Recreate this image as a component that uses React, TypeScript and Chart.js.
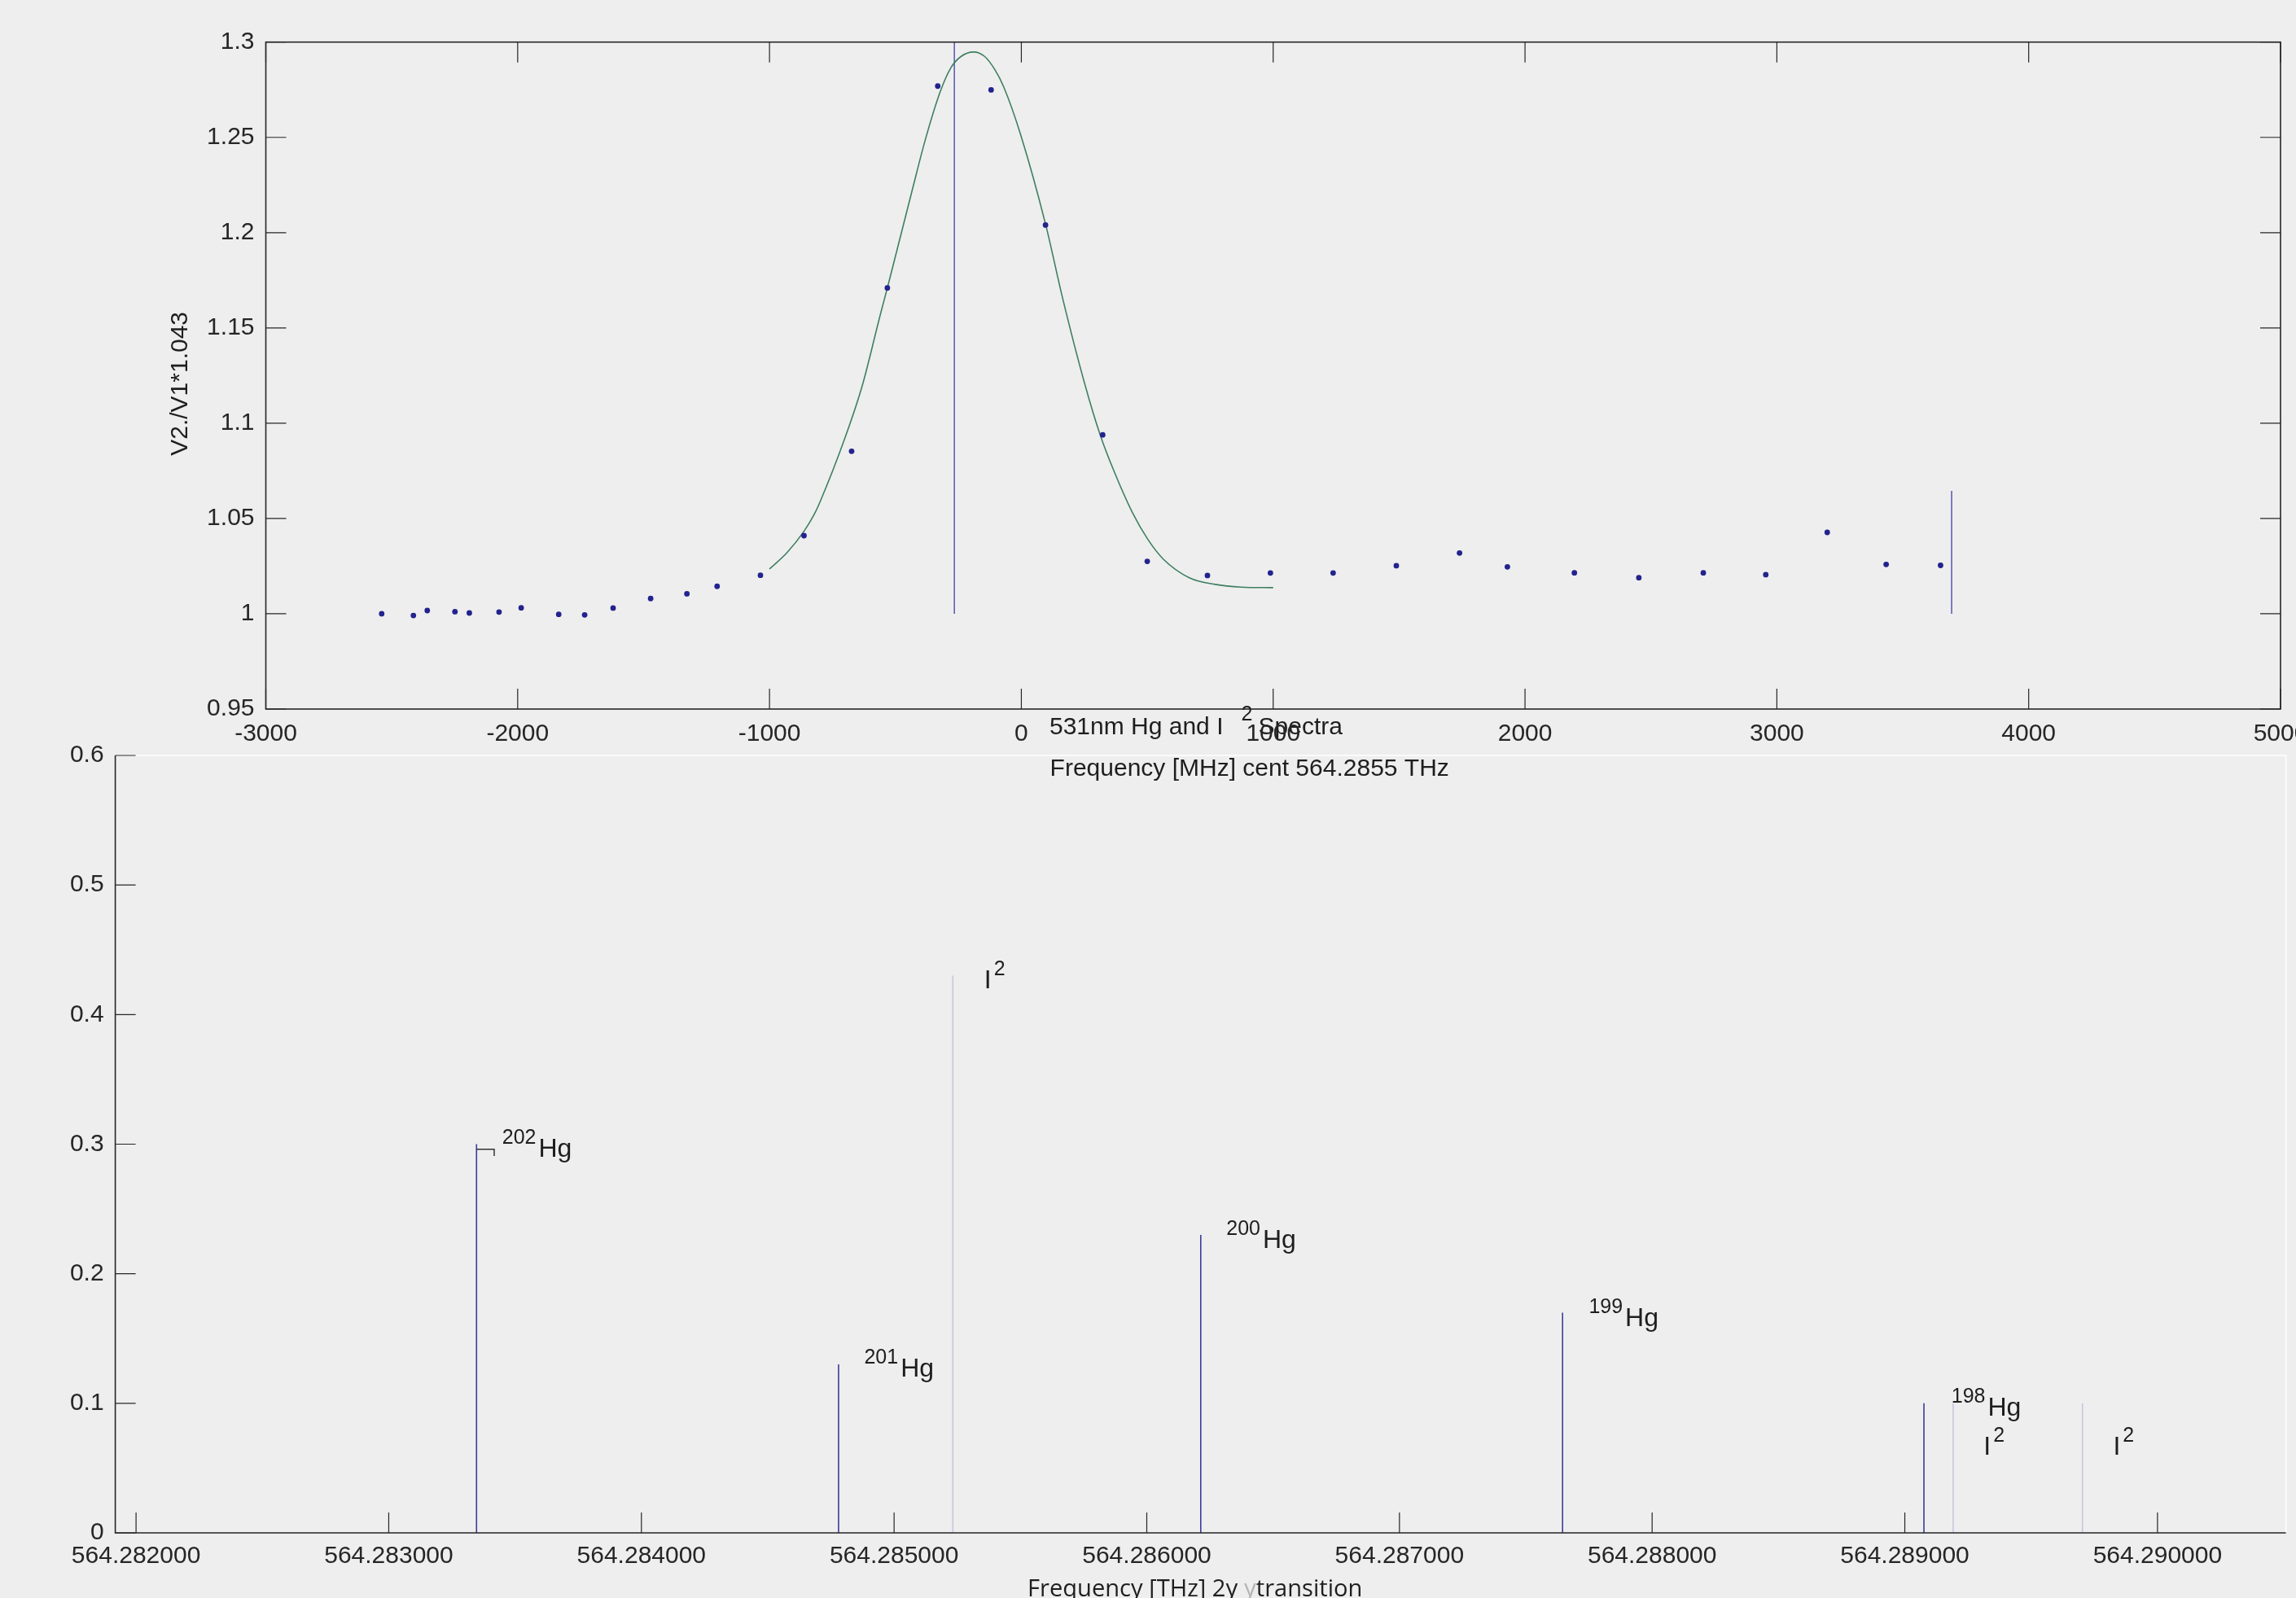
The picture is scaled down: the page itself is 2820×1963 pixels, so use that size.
import React, { useEffect, useRef } from 'react';
import { Chart, registerables } from 'chart.js';

Chart.register(...registerables);

const FONT = '"Liberation Sans", Arial, Helvetica, sans-serif';
const INK = '#1e1e1e';
const AXIS = '#262626';
const BG = '#eeeeee';

// ---------- top panel: measured ratio vs detuning ----------
const TOP_X_MIN = -3000;
const TOP_X_MAX = 5000;
const TOP_Y_MIN = 0.95;
const TOP_Y_MAX = 1.3;
const TOP_X_TICKS = [-3000, -2000, -1000, 0, 1000, 2000, 3000, 4000, 5000];
const TOP_Y_TICKS = [0.95, 1, 1.05, 1.1, 1.15, 1.2, 1.25, 1.3];

const MEAS_MHZ = [
  -2540, -2414, -2359, -2249, -2192, -2074, -1986, -1837, -1734, -1621,
  -1472, -1328, -1208, -1036, -863, -674, -532, -332, -120, 96,
  323, 500, 739, 989, 1238, 1489, 1740, 1930, 2196, 2452,
  2708, 2956, 3200, 3434, 3650,
];
const MEAS_RATIO = [
  1.0, 0.9991, 1.0017, 1.0011, 1.0004, 1.0009, 1.0031, 0.9997, 0.9994, 1.003,
  1.008, 1.0105, 1.0144, 1.0202, 1.041, 1.0853, 1.171, 1.2769, 1.2749, 1.204,
  1.0939, 1.0275, 1.0201, 1.0214, 1.0214, 1.0252, 1.0319, 1.0246, 1.0215, 1.0189,
  1.0215, 1.0205, 1.0427, 1.0259, 1.0254,
];

const FIT_MHZ = [
  -1000, -931, -862, -823, -800, -697, -631, -560, -532, -431,
  -384, -322, -280, -239, -190, -146, -105, -70, -2, 97,
  163, 251, 313, 369, 441, 503, 565, 667, 770, 873,
  1000,
];
const FIT_RATIO = [
  1.0235, 1.032, 1.0435, 1.052, 1.0585, 1.0935, 1.12, 1.157, 1.171, 1.2235,
  1.2475, 1.274, 1.2865, 1.2925, 1.2948, 1.2925, 1.2855, 1.2765, 1.2511, 1.204,
  1.1661, 1.121, 1.0939, 1.0745, 1.0531, 1.0389, 1.0285, 1.0189, 1.0154, 1.014,
  1.0137,
];

const MARK_MHZ = [-266, 3694];
const MARK_TOP = [1.3, 1.0645];
const MARK_BASE = 1.0;

const TOP_Y_TITLE = 'V2./V1*1.043';
const TOP_X_TITLE = 'Frequency [MHz] cent 564.2855 THz';

// ---------- bottom panel: line positions ----------
const BOT_X_MIN = 564.2819178;
const BOT_X_MAX = 564.2905082;
const BOT_Y_MIN = 0;
const BOT_Y_MAX = 0.6;
const BOT_X_TICKS = [564.282, 564.283, 564.284, 564.285, 564.286, 564.287, 564.288, 564.289, 564.29];
const BOT_Y_TICKS = [0, 0.1, 0.2, 0.3, 0.4, 0.5, 0.6];

const HG_ISOTOPE = ['202', '201', '200', '199', '198'];
const HG_THZ = [564.2833474, 564.2847802, 564.2862136, 564.2876455, 564.2890757];
const HG_AMP = [0.3, 0.13, 0.23, 0.17, 0.1];
const HG_LABEL_THZ = [564.2834488, 564.2848817, 564.2863151, 564.2877493, 564.2891843];
const HG_LABEL_AMP = [0.2994, 0.1299, 0.2292, 0.1689, 0.0995];

const I2_THZ = [564.2852326, 564.2891913, 564.2897031];
const I2_AMP = [0.43, 0.1, 0.1];
const I2_LABEL_THZ = [564.2853567, 564.2893116, 564.2898247];
const I2_LABEL_AMP = [0.4294, 0.0694, 0.0694];

const BRACKET_THZ = [564.2833474, 564.2834174, 564.2834174];
const BRACKET_AMP = [0.2961, 0.2961, 0.2909];

const TITLE_PARTS = ['531nm Hg and I', '2', 'Spectra'];
const BOT_X_TITLE_PARTS = ['Frequency [THz] 2\u03b3 ', '\u03b3', 'transition'];

const pts = (xs: number[], ys: number[]) => xs.map((x, i) => ({ x, y: ys[i] }));

const bgPlugin = {
  id: 'bgFill',
  beforeDraw(chart: any) {
    const { ctx, width, height } = chart;
    ctx.save();
    ctx.fillStyle = BG;
    ctx.fillRect(0, 0, width, height);
    ctx.restore();
  },
};

const topFrame = {
  id: 'topFrame',
  afterDatasetsDraw(chart: any) {
    const { ctx, chartArea: a } = chart;
    const xs = chart.scales.x;
    const ys = chart.scales.y;
    ctx.save();
    ctx.strokeStyle = AXIS;
    ctx.lineWidth = 1.6;
    ctx.strokeRect(a.left, a.top, a.right - a.left, a.bottom - a.top);
    ctx.lineWidth = 1.2;
    ctx.beginPath();
    for (const v of TOP_X_TICKS) {
      const px = xs.getPixelForValue(v);
      ctx.moveTo(px, a.bottom);
      ctx.lineTo(px, a.bottom - 25);
      ctx.moveTo(px, a.top);
      ctx.lineTo(px, a.top + 25);
    }
    for (const v of TOP_Y_TICKS) {
      const py = ys.getPixelForValue(v);
      ctx.moveTo(a.left, py);
      ctx.lineTo(a.left + 25, py);
      ctx.moveTo(a.right, py);
      ctx.lineTo(a.right - 25, py);
    }
    ctx.stroke();

    ctx.fillStyle = INK;
    ctx.font = `30px ${FONT}`;
    ctx.save();
    ctx.translate(230, (a.top + a.bottom) / 2 + 10);
    ctx.rotate(-Math.PI / 2);
    ctx.textAlign = 'center';
    ctx.textBaseline = 'alphabetic';
    ctx.fillText(TOP_Y_TITLE, 0, 0);
    ctx.restore();

    ctx.textAlign = 'left';
    ctx.textBaseline = 'alphabetic';
    ctx.fillText(TOP_X_TITLE, 1289.6, 953);
    ctx.restore();
  },
};

function drawLabel(ctx: any, px: number, py: number, segs: [string, boolean][]) {
  let cx = px;
  for (const [t, sup] of segs) {
    ctx.font = sup ? `25px ${FONT}` : `32px ${FONT}`;
    ctx.fillText(t, cx, sup ? py - 1.5 : py + 14.5);
    cx += ctx.measureText(t).width + 3;
  }
}

const botFrame = {
  id: 'botFrame',
  afterDatasetsDraw(chart: any) {
    const { ctx, chartArea: a } = chart;
    const xs = chart.scales.x;
    const ys = chart.scales.y;
    ctx.save();
    ctx.lineWidth = 1.5;
    ctx.strokeStyle = '#ffffff';
    ctx.beginPath();
    ctx.moveTo(a.left, a.top);
    ctx.lineTo(a.right, a.top);
    ctx.lineTo(a.right, a.bottom);
    ctx.stroke();
    ctx.strokeStyle = AXIS;
    ctx.lineWidth = 1.6;
    ctx.beginPath();
    ctx.moveTo(a.left, a.top);
    ctx.lineTo(a.left, a.bottom);
    ctx.lineTo(a.right, a.bottom);
    ctx.stroke();
    ctx.lineWidth = 1.2;
    ctx.beginPath();
    for (const v of BOT_X_TICKS) {
      const px = xs.getPixelForValue(v);
      ctx.moveTo(px, a.bottom);
      ctx.lineTo(px, a.bottom - 25);
    }
    for (const v of BOT_Y_TICKS) {
      const py = ys.getPixelForValue(v);
      ctx.moveTo(a.left, py);
      ctx.lineTo(a.left + 25, py);
    }
    ctx.stroke();

    ctx.fillStyle = INK;
    ctx.textAlign = 'left';
    ctx.textBaseline = 'alphabetic';
    HG_ISOTOPE.forEach((iso, i) => {
      drawLabel(ctx, xs.getPixelForValue(HG_LABEL_THZ[i]), ys.getPixelForValue(HG_LABEL_AMP[i]), [
        [iso, true],
        ['Hg', false],
      ]);
    });
    I2_LABEL_THZ.forEach((v, i) => {
      drawLabel(ctx, xs.getPixelForValue(v), ys.getPixelForValue(I2_LABEL_AMP[i]), [
        ['I', false],
        ['2', true],
      ]);
    });

    // panel title
    ctx.font = `30px ${FONT}`;
    ctx.fillText(TITLE_PARTS[0], 1289, 902);
    ctx.font = `25px ${FONT}`;
    ctx.fillText(TITLE_PARTS[1], 1524.5, 885);
    ctx.font = `30px ${FONT}`;
    ctx.fillText(TITLE_PARTS[2], 1545.5, 902);

    // bottom axis title (different typeface)
    const fam = '"Open Sans", "Noto Sans", sans-serif';
    const full = BOT_X_TITLE_PARTS.join('');
    ctx.font = `30px ${fam}`;
    const w30 = ctx.measureText(full).width;
    const fs = (30 * 411.5) / w30;
    ctx.font = `${fs}px ${fam}`;
    const base = 1940 + 0.714 * fs;
    let cx = 1262;
    BOT_X_TITLE_PARTS.forEach((t, i) => {
      ctx.fillStyle = i === 1 ? '#b4b4b4' : INK;
      ctx.fillText(t, cx, base);
      cx += ctx.measureText(t).width;
    });
    ctx.restore();
  },
};

const tickFont = { family: FONT, size: 30 };

export default function App() {
  const topRef = useRef<HTMLCanvasElement>(null);
  const botRef = useRef<HTMLCanvasElement>(null);

  useEffect(() => {
    const hgSets = HG_THZ.map((f, i) => ({
      data: [{ x: f, y: 0 }, { x: f, y: HG_AMP[i] }],
      showLine: true,
      borderColor: '#3a3a9e',
      borderWidth: 1.6,
      pointRadius: 0,
    }));
    const i2Sets = I2_THZ.map((f, i) => ({
      data: [{ x: f, y: 0 }, { x: f, y: I2_AMP[i] }],
      showLine: true,
      borderColor: '#c8c8de',
      borderWidth: 1.6,
      pointRadius: 0,
    }));

    const bot = new Chart(botRef.current as HTMLCanvasElement, {
      type: 'scatter',
      data: {
        datasets: [
          {
            data: pts(BRACKET_THZ, BRACKET_AMP),
            showLine: true,
            borderColor: '#333333',
            borderWidth: 1.5,
            pointRadius: 0,
          },
          ...hgSets,
          ...i2Sets,
        ] as any,
      },
      options: {
        responsive: false,
        animation: false,
        devicePixelRatio: 1,
        events: [],
        layout: { autoPadding: false, padding: { left: 0, top: 928, right: 12.4, bottom: 20 } },
        plugins: { legend: { display: false }, tooltip: { enabled: false }, title: { display: false } },
        scales: {
          x: {
            type: 'linear',
            min: BOT_X_MIN,
            max: BOT_X_MAX,
            grid: { display: false, drawTicks: false },
            border: { display: false },
            afterBuildTicks: (s: any) => {
              s.ticks = BOT_X_TICKS.map((v) => ({ value: v }));
            },
            afterFit: (s: any) => {
              s.height = 60;
              s.paddingLeft = 0;
              s.paddingRight = 0;
            },
            ticks: {
              autoSkip: false,
              maxRotation: 0,
              padding: 11,
              color: AXIS,
              font: tickFont,
              callback: (v: any) => Number(v).toFixed(6),
            },
          },
          y: {
            type: 'linear',
            min: BOT_Y_MIN,
            max: BOT_Y_MAX,
            grid: { display: false, drawTicks: false },
            border: { display: false },
            afterBuildTicks: (s: any) => {
              s.ticks = BOT_Y_TICKS.map((v) => ({ value: v }));
            },
            afterFit: (s: any) => {
              s.width = 141.6;
              s.paddingTop = 0;
              s.paddingBottom = 0;
            },
            ticks: {
              padding: 14,
              color: AXIS,
              font: tickFont,
              callback: (v: any) => String(+Number(v).toFixed(4)),
            },
          },
        },
      } as any,
      plugins: [bgPlugin, botFrame],
    });

    const top = new Chart(topRef.current as HTMLCanvasElement, {
      type: 'scatter',
      data: {
        datasets: [
          {
            data: pts(MEAS_MHZ, MEAS_RATIO),
            pointRadius: 3.4,
            pointBorderWidth: 0,
            pointBackgroundColor: '#23238e',
            showLine: false,
          },
          {
            data: pts(FIT_MHZ, FIT_RATIO),
            showLine: true,
            borderColor: '#3d7f60',
            borderWidth: 1.6,
            pointRadius: 0,
            cubicInterpolationMode: 'monotone',
          },
          ...MARK_MHZ.map((m, i) => ({
            data: [{ x: m, y: MARK_BASE }, { x: m, y: MARK_TOP[i] }],
            showLine: true,
            borderColor: '#5555b0',
            borderWidth: 1.5,
            pointRadius: 0,
          })),
        ] as any,
      },
      options: {
        responsive: false,
        animation: false,
        devicePixelRatio: 1,
        events: [],
        layout: { autoPadding: false, padding: { left: 0, top: 51.7, right: 19, bottom: 1012 } },
        plugins: { legend: { display: false }, tooltip: { enabled: false }, title: { display: false } },
        scales: {
          x: {
            type: 'linear',
            min: TOP_X_MIN,
            max: TOP_X_MAX,
            grid: { display: false, drawTicks: false },
            border: { display: false },
            afterBuildTicks: (s: any) => {
              s.ticks = TOP_X_TICKS.map((v) => ({ value: v }));
            },
            afterFit: (s: any) => {
              s.height = 80;
              s.paddingLeft = 0;
              s.paddingRight = 0;
            },
            ticks: {
              autoSkip: false,
              maxRotation: 0,
              padding: 13,
              color: AXIS,
              font: tickFont,
              callback: (v: any) => String(Number(v)),
            },
          },
          y: {
            type: 'linear',
            min: TOP_Y_MIN,
            max: TOP_Y_MAX,
            grid: { display: false, drawTicks: false },
            border: { display: false },
            afterBuildTicks: (s: any) => {
              s.ticks = TOP_Y_TICKS.map((v) => ({ value: v }));
            },
            afterFit: (s: any) => {
              s.width = 326.5;
              s.paddingTop = 0;
              s.paddingBottom = 0;
            },
            ticks: {
              padding: 14,
              color: AXIS,
              font: tickFont,
              callback: (v: any) => String(+Number(v).toFixed(4)),
            },
          },
        },
      } as any,
      plugins: [topFrame],
    });

    return () => {
      top.destroy();
      bot.destroy();
    };
  }, []);

  return (
    <div
      style={{
        position: 'absolute',
        left: 0,
        top: 0,
        width: 2820,
        height: 1963,
        overflow: 'hidden',
        background: BG,
      }}
    >
      <canvas ref={botRef} width={2820} height={1963} style={{ position: 'absolute', left: 0, top: 0 }} />
      <canvas ref={topRef} width={2820} height={1963} style={{ position: 'absolute', left: 0, top: 0 }} />
    </div>
  );
}
